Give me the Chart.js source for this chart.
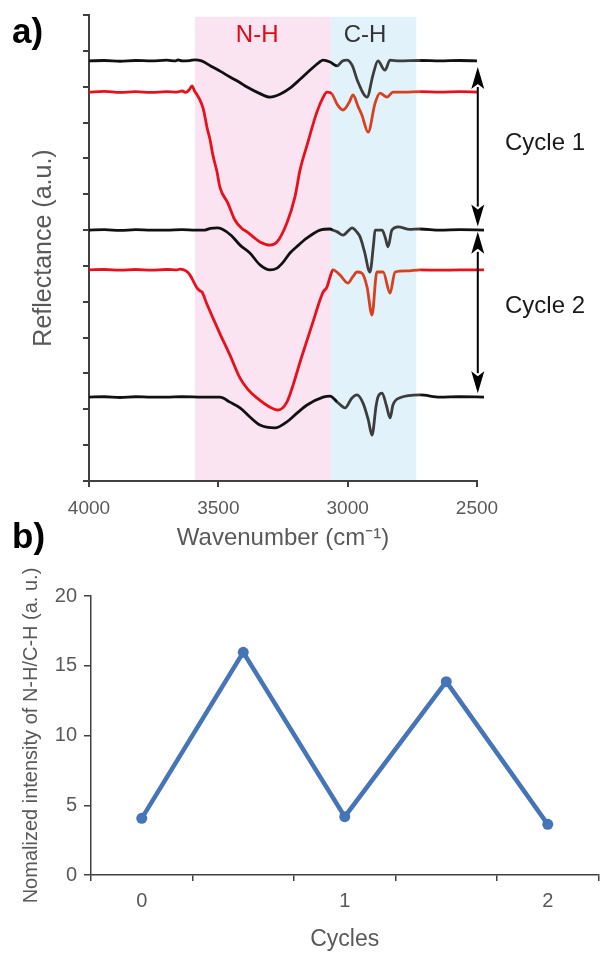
<!DOCTYPE html>
<html lang="en">
<head>
<meta charset="UTF-8">
<title>Reflectance spectra and N-H/C-H intensity</title>
<style>
  body { margin: 0; background: #fff; font-family: 'Liberation Sans', Arial, sans-serif; }
  .page { position: relative; width: 604px; height: 953px; overflow: hidden; }
  canvas { position: absolute; left: 0; }
  #chartA { top: 0; }
  #chartB { top: 555px; }
  .tag { position: absolute; left: 12px; font-weight: bold; font-size: 35px; line-height: 35px; color: #000; z-index: 2; }
</style>
</head>
<body>
<div class="page">
  <canvas id="chartA" width="604" height="560"></canvas>
  <canvas id="chartB" width="604" height="398"></canvas>
  <div class="tag" style="top:13px">a)</div>
  <div class="tag" style="top:518px">b)</div>
</div>

<script src="https://cdn.jsdelivr.net/npm/chart.js"></script>
<script>
// ---- panel a: spectra, [wavenumber, reflectance offset] ----
const blackTop = [
  [4000,11.72],[3940,11.73],[3880,11.71],[3820,11.73],[3760,11.72],[3700,11.74],[3665,11.72],[3656,11.75],
  [3640,11.72],[3610,11.73],[3590,11.75],[3565,11.72],[3530,11.58],[3490,11.42],[3455,11.27],[3420,11.13],
  [3389,10.99],[3343,10.82],[3300,10.71],[3262,10.79],[3223,10.96],[3185,11.20],[3146,11.46],[3110,11.68],
  [3095,11.74],[3068,11.69],[3041,11.58],[3020,11.72],[3003,11.74],[2983,11.60],[2960,11.13],[2925,10.71],
  [2902,11.33],[2883,11.72],[2856,11.46],[2836,11.74],[2800,11.72],[2720,11.73],[2643,11.72],[2566,11.73],[2500,11.72]
];
const redTop = [
  [4000,10.85],[3940,10.87],[3880,10.84],[3820,10.86],[3760,10.84],[3700,10.86],[3660,10.85],[3640,10.88],
  [3625,10.84],[3612,10.92],[3602,11.02],[3592,10.88],[3582,10.77],[3571,10.63],[3559,10.40],[3550,10.10],
  [3544,9.87],[3532,9.52],[3521,9.09],[3505,8.62],[3494,8.20],[3463,7.75],[3436,7.28],[3410,7.05],[3389,6.95],
  [3360,6.78],[3339,6.67],[3300,6.58],[3273,6.67],[3235,7.20],[3204,7.92],[3184,8.68],[3157,9.37],[3119,10.29],
  [3095,10.70],[3080,10.85],[3061,10.80],[3040,10.50],[3018,10.35],[2995,10.55],[2979,10.77],[2960,10.45],
  [2945,10.21],[2921,9.73],[2894,10.54],[2875,10.82],[2848,10.71],[2825,10.85],[2780,10.85],[2720,10.86],
  [2643,10.85],[2566,10.86],[2500,10.85]
];
const blackMid = [
  [4000,7.00],[3940,7.01],[3880,6.99],[3820,7.01],[3760,7.00],[3700,7.00],[3640,7.01],[3590,7.00],[3552,7.00],
  [3530,7.05],[3505,7.06],[3486,7.03],[3450,6.85],[3416,6.58],[3378,6.36],[3339,6.03],[3300,5.89],[3273,5.94],
  [3250,6.10],[3223,6.36],[3190,6.58],[3157,6.78],[3107,7.00],[3068,7.03],[3057,7.00],[3040,6.95],[3018,6.86],
  [2995,7.00],[2983,7.06],[2965,6.95],[2952,6.81],[2935,6.40],[2914,5.83],[2900,6.60],[2894,7.00],[2867,7.00],
  [2855,6.80],[2844,6.53],[2829,7.00],[2805,7.09],[2760,7.02],[2720,7.03],[2643,7.00],[2566,7.01],[2473,7.00]
];
const redMid = [
  [4000,5.89],[3940,5.90],[3880,5.88],[3820,5.90],[3760,5.88],[3700,5.90],[3660,5.89],[3648,5.91],[3625,5.86],
  [3610,5.75],[3595,5.55],[3582,5.38],[3570,5.30],[3563,5.27],[3545,4.95],[3521,4.55],[3490,4.05],[3455,3.51],
  [3416,2.87],[3385,2.55],[3351,2.32],[3300,2.06],[3269,1.98],[3235,2.20],[3210,2.70],[3184,3.32],[3134,4.44],
  [3107,5.05],[3095,5.27],[3080,5.41],[3068,5.69],[3057,5.89],[3030,5.75],[2999,5.52],[2980,5.70],[2964,5.83],
  [2945,5.80],[2925,5.41],[2906,4.63],[2887,5.83],[2863,5.83],[2836,5.24],[2817,5.83],[2771,5.86],[2720,5.89],
  [2643,5.88],[2566,5.89],[2473,5.89]
];
const blackBottom = [
  [4000,2.34],[3940,2.35],[3880,2.33],[3820,2.35],[3760,2.34],[3700,2.34],[3640,2.35],[3560,2.34],[3494,2.34],
  [3455,2.20],[3416,2.04],[3380,1.80],[3339,1.56],[3281,1.48],[3235,1.65],[3195,1.90],[3157,2.12],[3095,2.34],
  [3068,2.37],[3040,2.20],[3010,2.04],[2985,2.30],[2964,2.40],[2941,2.18],[2920,1.70],[2906,1.28],[2890,2.10],
  [2883,2.34],[2867,2.45],[2850,2.10],[2836,1.76],[2825,2.12],[2798,2.32],[2720,2.40],[2643,2.34],[2566,2.35],
  [2473,2.34]
];
const nhBand = [3590, 3065];
const chBand = [3065, 2735];
const bandTop = 12.95;
const wnTicks = [4000, 3500, 3000, 2500];

// ---- panel b ----
const cycleLabels = ['0', '', '1', '', '2'];
const ratioValues = [4.06, 15.96, 4.18, 13.86, 3.63];

const FONT = "'Liberation Sans', Arial, sans-serif";
const GREY = '#595959';
const AXIS = '#404040';

// black/red traces turn greyish/orange inside the C-H band like the original
function traceColor(base, inCH) {
  return ctx => {
    const w = ctx.p0.parsed.x;
    return (w <= chBand[0] && w > chBand[1]) ? inCH : base;
  };
}
function trace(data, base, inCH) {
  return {
    data: data, borderColor: base, borderWidth: 2.8, pointRadius: 0,
    cubicInterpolationMode: 'monotone', clip: false,
    segment: { borderColor: traceColor(base, inCH) }
  };
}

function arrow(ctx, x, y1, y2) {
  const head = 22, half = 6.5;
  ctx.save();
  ctx.strokeStyle = '#000';
  ctx.fillStyle = '#000';
  ctx.lineWidth = 2;
  ctx.beginPath();
  ctx.moveTo(x, y1 + head - 2);
  ctx.lineTo(x, y2 - head + 2);
  ctx.stroke();
  [[y1, 1], [y2, -1]].forEach(([tip, dir]) => {
    ctx.beginPath();
    ctx.moveTo(x, tip);
    ctx.lineTo(x - half, tip + dir * head);
    ctx.lineTo(x, tip + dir * (head - 5));
    ctx.lineTo(x + half, tip + dir * head);
    ctx.closePath();
    ctx.fill();
  });
  ctx.restore();
}

const spectraDecor = {
  id: 'spectraDecor',
  beforeDraw(chart) {
    const { ctx, scales: { x, y } } = chart;
    const top = y.getPixelForValue(bandTop);
    const bottom = y.getPixelForValue(0);
    [[nhBand, '#fae4f1'], [chBand, '#e1f2fb']].forEach(([b, c]) => {
      const x1 = x.getPixelForValue(b[0]);
      const x2 = x.getPixelForValue(b[1]);
      ctx.fillStyle = c;
      ctx.fillRect(x1, top, x2 - x1, bottom - top);
    });
  },
  afterDatasetsDraw(chart) {
    const { ctx, scales: { x, y } } = chart;
    const ax = x.getPixelForValue(2497);
    arrow(ctx, ax, y.getPixelForValue(11.55), y.getPixelForValue(7.1));
    arrow(ctx, ax, y.getPixelForValue(6.95), y.getPixelForValue(2.45));

    ctx.save();
    ctx.font = '24px ' + FONT;
    ctx.textAlign = 'center';
    ctx.textBaseline = 'middle';
    ctx.fillStyle = '#e30613';
    ctx.fillText('N-H', x.getPixelForValue(3350), y.getPixelForValue(12.44));
    ctx.fillStyle = '#333';
    ctx.fillText('C-H', x.getPixelForValue(2933), y.getPixelForValue(12.44));
    ctx.fillStyle = '#1a1a1a';
    ctx.fillText('Cycle 1', x.getPixelForValue(2237), y.getPixelForValue(9.43));
    ctx.fillText('Cycle 2', x.getPixelForValue(2237), y.getPixelForValue(4.88));
    ctx.restore();
  }
};

new Chart(document.getElementById('chartA'), {
  type: 'line',
  data: {
    datasets: [
      trace(blackTop, '#111', '#3d3d3d'),
      trace(redTop, '#e8101a', '#d9401f'),
      trace(blackMid, '#111', '#3d3d3d'),
      trace(redMid, '#e8101a', '#d9401f'),
      trace(blackBottom, '#111', '#3d3d3d')
    ]
  },
  options: {
    responsive: false,
    animation: false,
    layout: { padding: { top: 15, right: 127, left: 0, bottom: 0 } },
    plugins: { legend: { display: false }, tooltip: { enabled: false } },
    scales: {
      x: {
        type: 'linear', reverse: true, min: 2500, max: 4000,
        afterFit: s => { s.height = 79; },
        afterBuildTicks: s => { s.ticks = wnTicks.map(v => ({ value: v })); },
        ticks: { color: GREY, font: { size: 19, family: FONT }, padding: 10, maxRotation: 0, callback: v => String(v) },
        grid: { drawOnChartArea: false, tickLength: 6, color: AXIS, lineWidth: 2 },
        border: { color: AXIS, width: 2 },
        title: { display: true, text: 'Wavenumber (cm⁻¹)', color: GREY, font: { size: 24, family: FONT }, padding: { top: 0, bottom: 7 } }
      },
      y: {
        min: 0, max: 13,
        afterFit: s => { s.width = 89; },
        ticks: { display: false, stepSize: 1 },
        grid: { drawOnChartArea: false, tickLength: 6, color: AXIS, lineWidth: 2 },
        border: { color: AXIS, width: 2 },
        title: { display: true, text: 'Reflectance (a.u.)', color: GREY, font: { size: 25, family: FONT }, padding: { top: 29 } }
      }
    }
  },
  plugins: [spectraDecor]
});

// ---- panel b: normalized N-H/C-H ratio over cycles ----
new Chart(document.getElementById('chartB'), {
  type: 'line',
  data: {
    labels: cycleLabels,
    datasets: [{
      data: ratioValues,
      borderColor: '#4674b8',
      backgroundColor: '#4674b8',
      borderWidth: 4.5,
      pointRadius: 5.5,
      pointBackgroundColor: '#4674b8',
      pointBorderWidth: 0,
      tension: 0
    }]
  },
  options: {
    responsive: false,
    animation: false,
    layout: { padding: { top: 41, right: 1, left: 0, bottom: 0 } },
    plugins: { legend: { display: false }, tooltip: { enabled: false } },
    scales: {
      x: {
        type: 'category', offset: true,
        afterFit: s => { s.height = 78; },
        ticks: { color: GREY, font: { size: 20, family: FONT }, padding: 8, autoSkip: false, maxRotation: 0 },
        grid: { offset: true, drawOnChartArea: false, tickLength: 6, color: AXIS, lineWidth: 1.5 },
        border: { color: AXIS, width: 1.5 },
        title: { display: true, text: 'Cycles', color: GREY, font: { size: 23, family: FONT }, padding: { top: 0, bottom: 0 } }
      },
      y: {
        min: 0, max: 20,
        afterFit: s => { s.width = 91; },
        ticks: { stepSize: 5, color: GREY, font: { size: 20, family: FONT }, padding: 7 },
        grid: { drawOnChartArea: false, tickLength: 7, color: AXIS, lineWidth: 1.5 },
        border: { color: AXIS, width: 1.5 },
        title: { display: true, text: 'Nomalized intensity of N-H/C-H (a. u.)', color: GREY, font: { size: 20, family: FONT }, padding: { top: 19 } }
      }
    }
  }
});
</script>
</body>
</html>
